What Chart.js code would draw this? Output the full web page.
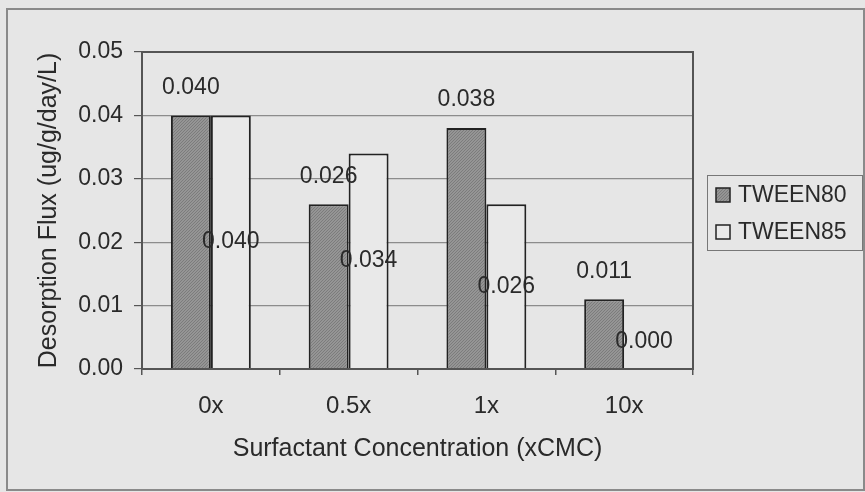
<!DOCTYPE html>
<html>
<head>
<meta charset="utf-8">
<script src="https://cdn.jsdelivr.net/npm/chart.js@4.4.0/dist/chart.umd.min.js"></script>
<style>
  html, body { margin: 0; padding: 0; background: #e6e6e6; }
  canvas { display: block; }
</style>
</head>
<body>
<canvas id="c" width="865" height="492"></canvas>
<script>
const categories = ['0x', '0.5x', '1x', '10x'];
const seriesNames = ['TWEEN80', 'TWEEN85'];
const tween80 = [0.040, 0.026, 0.038, 0.011];
const tween85 = [0.040, 0.034, 0.026, 0.000];
const yTicks = [0.00, 0.01, 0.02, 0.03, 0.04, 0.05];

const FONT = "'Liberation Sans', Arial, sans-serif";
const TEXT = '#2a2a2a';

function hatch() {
  const p = document.createElement('canvas');
  p.width = 3; p.height = 3;
  const g = p.getContext('2d');
  g.fillStyle = '#959595';
  g.fillRect(0, 0, 3, 3);
  g.fillStyle = '#7c7c7c';
  for (let i = 0; i < 3; i++) g.fillRect(i, 2 - i, 1, 1);
  return g.createPattern(p, 'repeat');
}
const darkFill = hatch();
const lightFill = '#e9e9e9';

const bgPlugin = {
  id: 'bg',
  beforeDraw(chart) {
    const ctx = chart.ctx;
    ctx.save();
    ctx.fillStyle = '#e6e6e6';
    ctx.fillRect(0, 0, chart.width, chart.height);
    ctx.strokeStyle = '#8a8a8a';
    ctx.lineWidth = 2;
    ctx.strokeRect(7, 9, 857, 481);
    ctx.restore();
  },
  afterDatasetsDraw(chart) {
    const ctx = chart.ctx;
    const a = chart.chartArea;
    ctx.save();
    ctx.strokeStyle = '#555';
    ctx.lineWidth = 2;
    ctx.strokeRect(a.left, a.top, a.right - a.left, a.bottom - a.top);
    ctx.restore();

    // data labels
    ctx.save();
    ctx.font = '23px ' + FONT;
    ctx.fillStyle = TEXT;
    ctx.textAlign = 'center';
    ctx.textBaseline = 'middle';
    chart.data.datasets.forEach((ds, di) => {
      const meta = chart.getDatasetMeta(di);
      meta.data.forEach((bar, i) => {
        const txt = ds.data[i].toFixed(3);
        let y;
        if (di === 0) {
          y = bar.y - 28;
        } else {
          y = Math.min((bar.y + bar.base) / 2, bar.base - 27);
        }
        ctx.fillText(txt, bar.x, y);
      });
    });
    ctx.restore();

    // legend
    ctx.save();
    ctx.strokeStyle = '#777';
    ctx.lineWidth = 1;
    ctx.strokeRect(707.5, 175.5, 155, 75);
    const rows = [195, 232];
    chart.data.datasets.forEach((ds, di) => {
      const y = rows[di];
      ctx.fillStyle = ds.backgroundColor;
      ctx.fillRect(716, y - 7, 14, 14);
      ctx.strokeStyle = '#222';
      ctx.lineWidth = 1.5;
      ctx.strokeRect(716, y - 7, 14, 14);
      ctx.fillStyle = TEXT;
      ctx.font = '23px ' + FONT;
      ctx.textAlign = 'left';
      ctx.textBaseline = 'middle';
      ctx.fillText(ds.label, 738, y + 1);
    });
    ctx.restore();
  }
};

new Chart(document.getElementById('c'), {
  type: 'bar',
  data: {
    labels: categories,
    datasets: [
      { label: seriesNames[0], data: tween80, backgroundColor: darkFill, borderColor: '#222', borderWidth: 2,
        categoryPercentage: 0.58, barPercentage: 1.0 },
      { label: seriesNames[1], data: tween85, backgroundColor: lightFill, borderColor: '#222', borderWidth: 2,
        categoryPercentage: 0.58, barPercentage: 1.0 }
    ]
  },
  options: {
    responsive: false,
    animation: false,
    devicePixelRatio: 1,
    layout: { padding: { left: 10, right: 172, top: 52, bottom: 10 } },
    plugins: { legend: { display: false }, tooltip: { enabled: false } },
    scales: {
      x: {
        afterFit(s) { s.height = 113; },
        grid: { offset: true, drawOnChartArea: false, tickLength: 6, color: '#555', lineWidth: 1.5 },
        border: { display: false },
        ticks: { color: TEXT, font: { family: FONT, size: 24 }, padding: 17 },
        title: { display: true, text: 'Surfactant Concentration (xCMC)', color: TEXT,
          font: { family: FONT, size: 25, lineHeight: 1.2 }, padding: { top: 0, bottom: 18 } }
      },
      y: {
        min: 0, max: 0.05,
        afterFit(s) { s.width = 132; },
        afterBuildTicks(s) { s.ticks = yTicks.map(v => ({ value: v })); },
        grid: { color: '#8c8c8c', lineWidth: 1.2, tickLength: 8, tickColor: '#555' },
        border: { display: false },
        ticks: { color: TEXT, font: { family: FONT, size: 23 }, padding: 11,
          callback: v => Number(v).toFixed(2) },
        title: { display: true, text: 'Desorption Flux (ug/g/day/L)', color: TEXT,
          font: { family: FONT, size: 25, lineHeight: 1.2 }, padding: { top: 24, bottom: 0 } }
      }
    }
  },
  plugins: [bgPlugin]
});
</script>
</body>
</html>
